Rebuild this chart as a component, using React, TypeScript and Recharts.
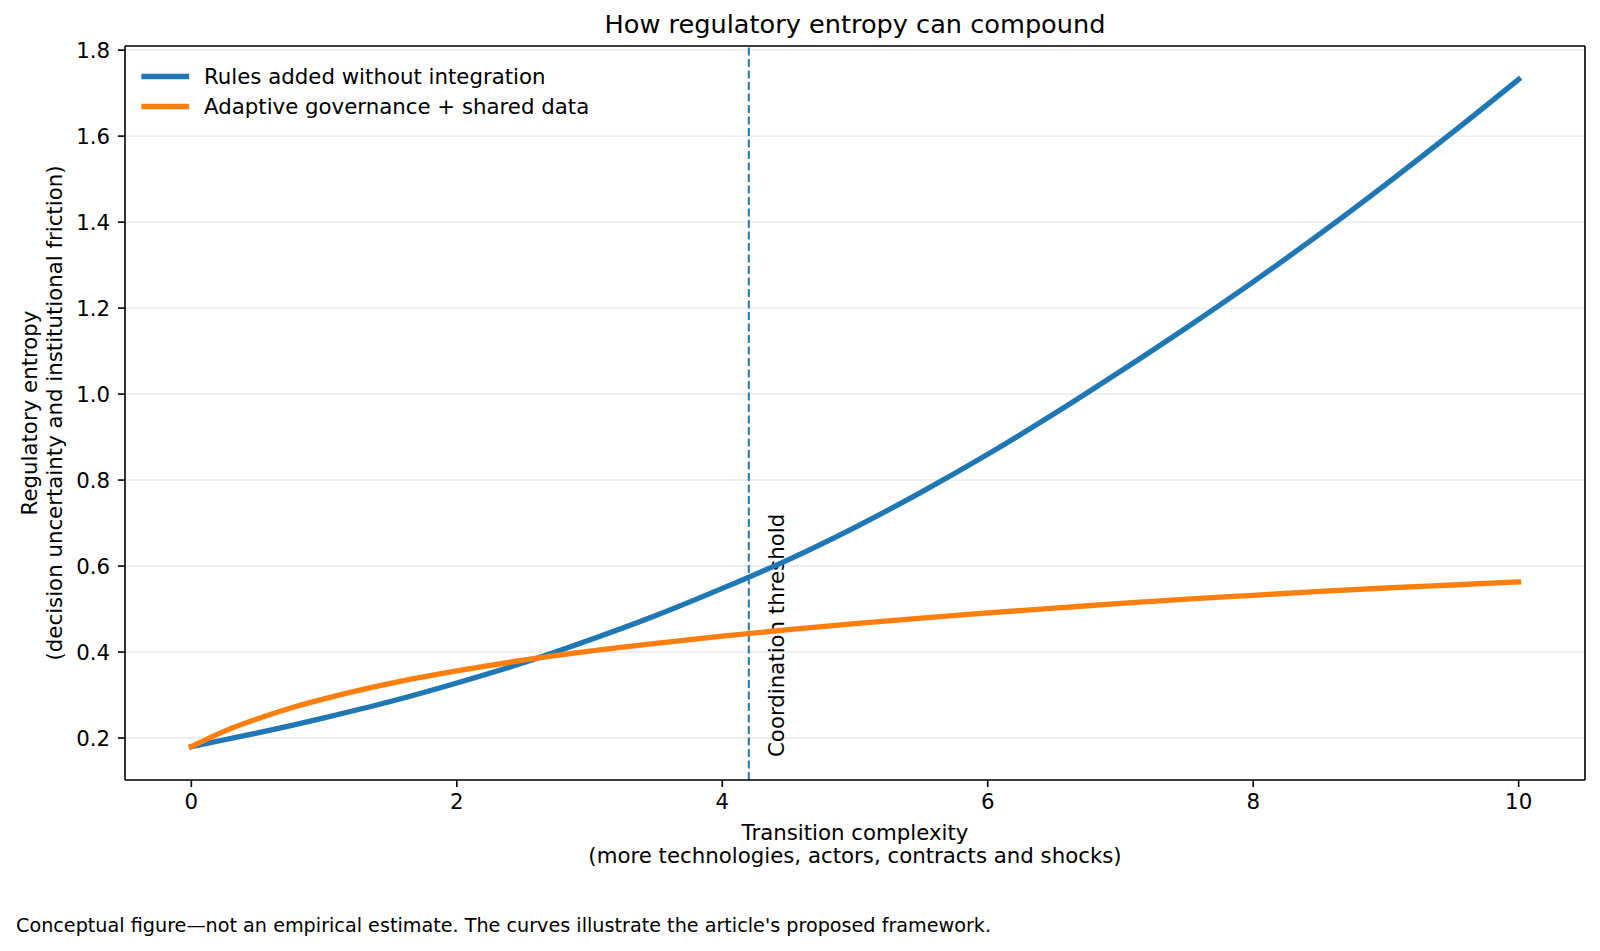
import React from 'react';
import { CartesianGrid, Line, LineChart, ReferenceLine, XAxis, YAxis } from 'recharts';

// values
const complexity = [0, 0.25, 0.5, 0.75, 1, 1.5, 2, 2.5, 3, 3.5, 4, 4.5, 5, 5.5, 6, 6.5, 7, 7.5, 8, 8.5, 9, 9.5, 10];
const rulesAdded = [
  0.18, 0.196, 0.212, 0.229, 0.247, 0.285, 0.328, 0.375, 0.428, 0.485, 0.548, 0.615, 0.69, 0.772, 0.86, 0.954,
  1.053, 1.155, 1.261, 1.372, 1.488, 1.608, 1.732,
];
const adaptiveGovernance = [
  0.18, 0.216, 0.245, 0.27, 0.291, 0.327, 0.356, 0.381, 0.402, 0.42, 0.437, 0.452, 0.466, 0.479, 0.491, 0.502,
  0.513, 0.523, 0.532, 0.541, 0.549, 0.556, 0.563,
];
const xTicks = [0, 2, 4, 6, 8, 10];
const yTicks = [0.2, 0.4, 0.6, 0.8, 1.0, 1.2, 1.4, 1.6, 1.8];
const threshold = 4.2;
const xDomain: [number, number] = [-0.5, 10.5];
const yDomain: [number, number] = [0.1024, 1.8096];

const series = [
  { key: 'rules', name: 'Rules added without integration', color: '#1f77b4' },
  { key: 'adaptive', name: 'Adaptive governance + shared data', color: '#ff7f0e' },
];

const data = complexity.map((x, i) => ({ x, rules: rulesAdded[i], adaptive: adaptiveGovernance[i] }));

const FONT = '"DejaVu Sans", Verdana, sans-serif';
const W = 1600;
const H = 951;
const FS = 21.3;

function ThresholdLabel({ viewBox }: any) {
  if (!viewBox) return null;
  const x = viewBox.x + 35.5;
  const y = viewBox.y + viewBox.height - 23;
  return (
    <text x={x} y={y} transform={`rotate(-90 ${x} ${y})`} fontSize={FS} fill="#000" textAnchor="start">
      Coordination threshold
    </text>
  );
}

export default function App() {
  return (
    <div style={{ position: 'absolute', left: 0, top: 0, width: W, height: H, background: '#fff', fontFamily: FONT }}>
      <LineChart width={W} height={H} data={data} margin={{ top: 46, right: 15, bottom: 131, left: 45 }}>
        <CartesianGrid vertical={false} stroke="#e8e8e8" strokeWidth={1.4} />
        <XAxis
          type="number"
          dataKey="x"
          domain={xDomain}
          ticks={xTicks}
          height={40}
          allowDataOverflow
          stroke="#000"
          strokeWidth={1.6}
          tickSize={7}
          tickMargin={7}
          tick={{ fill: '#000', fontSize: FS }}
        />
        <YAxis
          type="number"
          domain={yDomain}
          ticks={yTicks}
          width={80}
          allowDataOverflow
          stroke="#000"
          strokeWidth={1.6}
          tickSize={7}
          tickMargin={8}
          tick={{ fill: '#000', fontSize: FS }}
          tickFormatter={(v: number) => v.toFixed(1)}
        />
        <ReferenceLine y={yDomain[1]} stroke="#000" strokeWidth={1.6} />
        <ReferenceLine x={xDomain[1]} stroke="#000" strokeWidth={1.6} />
        <ReferenceLine
          x={threshold}
          stroke="#1f77b4"
          strokeWidth={2}
          strokeDasharray="8 3.5"
          label={<ThresholdLabel />}
        />
        {series.map((s) => (
          <Line
            key={s.key}
            type="monotone"
            dataKey={s.key}
            name={s.name}
            stroke={s.color}
            strokeWidth={5.3}
            strokeLinecap="square"
            dot={false}
            activeDot={false}
            isAnimationActive={false}
          />
        ))}
      </LineChart>
      <svg
        width={W}
        height={H}
        style={{ position: 'absolute', left: 0, top: 0, pointerEvents: 'none', fontFamily: FONT }}
      >
        {series.map((s, i) => (
          <g key={s.key}>
            <line x1={144} x2={186.5} y1={76.5 + i * 30} y2={76.5 + i * 30} stroke={s.color} strokeWidth={5.3} strokeLinecap="square" />
            <text x={204} y={76.5 + i * 30 + 7.7} fontSize={FS} fill="#000">
              {s.name}
            </text>
          </g>
        ))}
        <text x={855} y={33} fontSize={25.6} textAnchor="middle" fill="#000">
          How regulatory entropy can compound
        </text>
        <text x={855} y={840} fontSize={FS} textAnchor="middle" fill="#000">
          Transition complexity
        </text>
        <text x={855} y={863} fontSize={FS} textAnchor="middle" fill="#000">
          (more technologies, actors, contracts and shocks)
        </text>
        <text x={37} y={413} fontSize={FS} textAnchor="middle" fill="#000" transform="rotate(-90 37 413)">
          Regulatory entropy
        </text>
        <text x={62} y={413} fontSize={FS} textAnchor="middle" fill="#000" transform="rotate(-90 62 413)">
          (decision uncertainty and institutional friction)
        </text>
        <text x={16} y={932} fontSize={19.2} fill="#000">
          Conceptual figure—not an empirical estimate. The curves illustrate the article's proposed framework.
        </text>
      </svg>
    </div>
  );
}
